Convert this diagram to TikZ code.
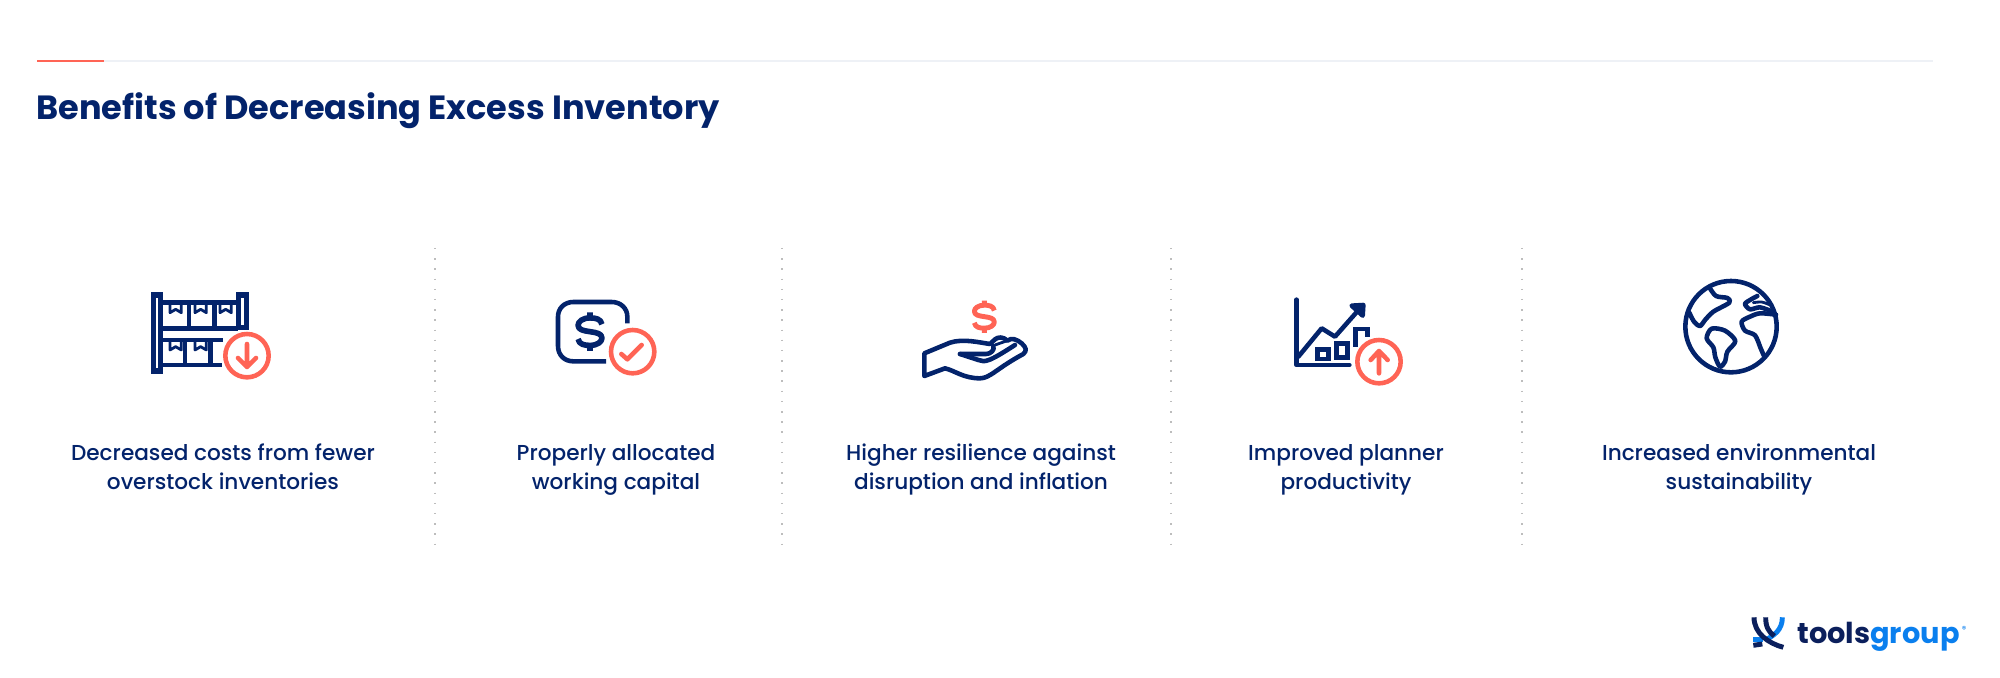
\documentclass[tikz,border=0pt]{standalone}
\usepackage{fontspec}
\setmainfont{Poppins}[UprightFont=* Medium,BoldFont=* Bold]
\definecolor{navy}{HTML}{03236B}
\definecolor{coral}{HTML}{FF6455}
\definecolor{logonavy}{HTML}{0B1F5C}
\definecolor{logoblue}{HTML}{0A7FEE}
\definecolor{rulegray}{HTML}{EEF1F6}
\definecolor{dotgray}{HTML}{BDBDBD}
\tikzset{
  icon/.style={navy,line width=2.6pt,line join=round,line cap=round},
  badge/.style={coral,line width=2.6pt,line join=round,line cap=round},
  caption/.style={navy,align=center,font=\fontsize{12.3}{16}\selectfont},
  divider/.style={dotgray,line width=.85pt,dash pattern=on .85pt off 4.95pt},
}
\newcommand{\dollarsign}{
  (13,-8) .. controls (12,-14) and (6,-15) .. (0,-15) .. controls (-8,-15) and (-13,-11) .. (-13,-7)
  .. controls (-13,-2) and (-7,-1) .. (0,0) .. controls (7,1) and (13,2) .. (13,7)
  .. controls (13,11) and (8,15) .. (0,15) .. controls (-6,15) and (-12,14) .. (-13,8)
  (0,-15) -- (0,-21) (0,15) -- (0,21)}
\begin{document}
\begin{tikzpicture}[x=0.02cm,y=-0.02cm]
\useasboundingbox (0,0) rectangle (2000,678);
% header
\draw[rulegray,line width=.8pt] (104,61) -- (1933,61);
\draw[coral,line width=1.2pt] (37,61) -- (104,61);
\node[anchor=base west,inner sep=0pt,navy,font=\fontsize{19.1}{24}\selectfont\bfseries] (title) at (36,119.5) {Benefits of Decreasing Excess Inventory};
% dividers
\foreach \x in {435,782,1171,1522}
  \draw[divider] (\x,248) -- (\x,545);
% captions
\node[caption,anchor=base] (costs) at (223,489) {Decreased costs from fewer\\overstock inventories};
\node[caption,anchor=base] (capital) at (616,489) {Properly allocated\\working capital};
\node[caption,anchor=base] (resilience) at (981,489) {Higher resilience against\\disruption and inflation};
\node[caption,anchor=base] (planner) at (1346,489) {Improved planner\\productivity};
\node[caption,anchor=base] (environment) at (1739,489) {Increased environmental\\sustainability};
% shelves
\begin{scope}[shift={(120,270)},scale=1/3]
  \draw[icon,line width=2.85pt,line cap=butt,line join=miter] (99.5,75) rectangle (122.5,303) (355.5,75) rectangle (378.5,172);
  \draw[icon,line cap=butt] (124,98) -- (354,98) (124,175) -- (354,175) (124,210) -- (310,210) (124,285) -- (305,285);
  \draw[icon,line cap=butt] (207,98) -- (207,175) (283,98) -- (283,175) (195,210) -- (195,285) (272,210) -- (272,285);
  \foreach \bx in {150,225,300}
    \draw[icon,line width=1.6pt] (\bx,98) -- (\bx,128) -- (\bx+17,118) -- (\bx+34,128) -- (\bx+34,98);
  \foreach \bx in {150,225}
    \draw[icon,line width=1.6pt] (\bx,210) -- (\bx,240) -- (\bx+17,230) -- (\bx+34,240) -- (\bx+34,210);
  \draw[badge,fill=white] (381,257) circle (65);
  \draw[badge] (381,222) -- (381,290) (354,264) -- (381,291) -- (408,264);
\end{scope}
% banknote
\begin{scope}[shift={(530,280)},scale=1/3]
  \draw[icon,line cap=butt] (292,130) -- (292,110) .. controls (292,85) and (272,66) .. (245,66) -- (130,66)
    .. controls (103,66) and (84,85) .. (84,110) -- (84,198) .. controls (84,225) and (103,244) .. (130,244) -- (228,244);
  \begin{scope}[shift={(180,155)},scale=2.75]
    \draw[icon,line width=3.2pt,line cap=butt] \dollarsign;
  \end{scope}
  \draw[badge] (308,215) circle (65);
  \draw[badge] (274,222) -- (292,238) -- (335,195);
\end{scope}
% hand
\begin{scope}[shift={(900,280)},scale=1/3]
  \begin{scope}[shift={(253,110)},scale=2.3]
    \draw[badge,line width=2.8pt,line cap=butt] \dollarsign;
  \end{scope}
  \draw[icon] (73,220) -- (73,288) -- (135,265) .. controls (165,272) and (190,295) .. (240,295)
    .. controls (270,295) and (290,265) .. (370,222) .. controls (382,212) and (378,202) .. (365,190)
    .. controls (350,178) and (335,172) .. (322,182) .. controls (310,170) and (295,170) .. (285,178) -- (270,192)
    .. controls (240,188) and (190,175) .. (150,188) -- cycle;
  \draw[icon] (180,222) -- (258,222) .. controls (272,222) and (285,210) .. (280,198);
  \draw[icon] (180,222) -- (235,240) .. controls (255,250) and (275,240) .. (345,195);
  \draw[icon,line width=1.6pt] (285,195) -- (322,182);
\end{scope}
% chart
\begin{scope}[shift={(1280,285)},scale=1/3]
  \draw[icon] (50,44) -- (50,240) -- (208,240);
  \draw[icon] (55,215) -- (125,130) -- (165,155) -- (240,70);
  \draw[icon,fill=navy] (215,62) -- (250,60) -- (248,92) -- cycle;
  \draw[icon,line cap=butt,line join=miter] (112,194) rectangle (145,222) (170,176) rectangle (203,218);
  \draw[icon,line cap=butt,line join=miter] (226,185) -- (226,132) -- (262,132) -- (262,155);
  \draw[badge,fill=white] (297,230) circle (65);
  \draw[badge] (297,265) -- (297,198) (272,225) -- (297,198) -- (323,225);
\end{scope}
% globe
\begin{scope}[shift={(1670,270)},scale=1/3]
  \draw[icon] (183,170) circle (137);
  \draw[icon] plot[smooth] coordinates {(118,52) (138,78) (172,84) (178,98) (130,125) (105,150) (90,168) (72,155) (58,128)};
  \draw[icon] plot[smooth cycle] coordinates {(125,176) (165,182) (196,213) (172,245) (165,275) (150,290) (136,262) (130,232) (110,205)};
  \draw[icon] plot[smooth] coordinates {(262,78) (240,90) (225,102) (240,118) (270,112) (305,124)};
  \draw[icon,line width=1.6pt] plot[smooth] coordinates {(250,98) (275,96) (298,104)};
  \draw[icon] plot[smooth] coordinates {(318,134) (270,130) (240,140) (215,155) (225,182) (255,196) (272,235) (282,258)};
\end{scope}
% logo
\begin{scope}[shift={(1745,610)},scale=1/3,line width=2.8pt]
  \draw[logoblue] (112,22) .. controls (112,60) and (88,75) .. (62,90);
  \draw[logoblue] (25,88) -- (55,88);
  \draw[logonavy] (27,22) .. controls (27,70) and (70,100) .. (115,112);
  \draw[logonavy] (62,22) .. controls (62,50) and (70,65) .. (88,78);
  \draw[logonavy] (25,106) -- (52,102);
\end{scope}
\node[anchor=base west,inner sep=0pt,font=\fontsize{16.4}{20}\selectfont\bfseries] (brand) at (1797,643) {\textcolor{logonavy}{tools}\textcolor{logoblue}{group}};
\node[logoblue,inner sep=0pt,font=\fontsize{5}{6}\selectfont] (mark) at (1964,629) {®};
\end{tikzpicture}
\end{document}
